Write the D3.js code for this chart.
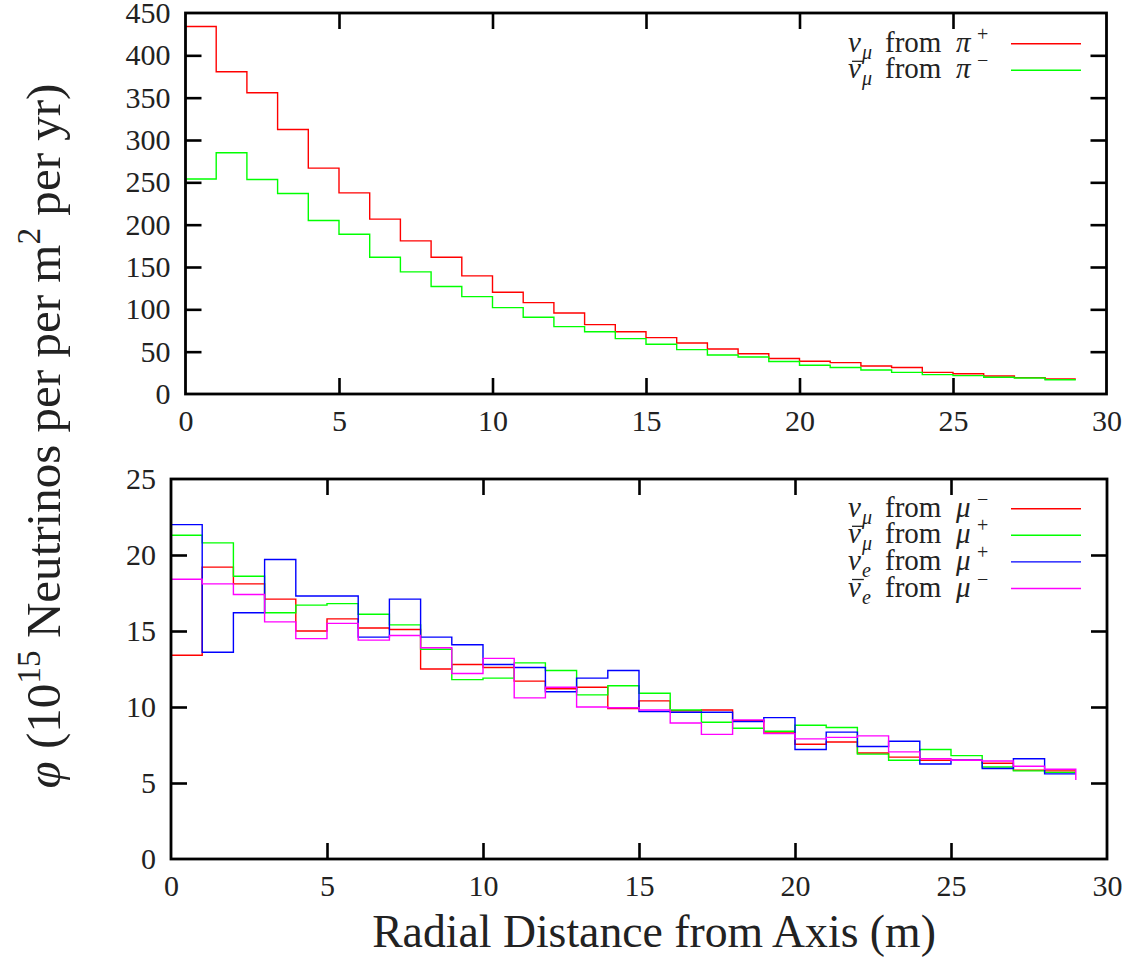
<!DOCTYPE html>
<html>
<head>
<meta charset="utf-8">
<script src="https://cdn.jsdelivr.net/npm/d3@7"></script>
<style>
  body { margin: 0; background: #fff; }
  svg { display: block; }
</style>
</head>
<body>
<svg id="chart" width="1134" height="968"></svg>
<script>
// --- data (bin index 0..29, last value is the closing step) ---
const bins = d3.range(0, 30);

const numuPiPlus   = [434, 380.6, 355.8, 312.4, 266.8, 237.6, 206.5, 180.9, 161.6, 139.5,
                      120.2, 107.9, 95.7, 81.9, 73.6, 66.6, 60.3, 53.2, 47.6, 42.0,
                      38.6, 37.0, 33.1, 31.3, 25.6, 24.0, 21.3, 19.3, 17.7, 17.7];
const numubarPiMinus = [254, 285, 253.3, 236.8, 204.9, 188.7, 161.6, 144.2, 126.9, 115,
                      102, 90.6, 79.6, 73.6, 65.4, 58.7, 52.4, 46.1, 43.7, 38.4,
                      33.9, 31.3, 28.4, 25.6, 22.9, 21.7, 19.7, 18.9, 16.9, 16.9];

const numuMuMinus   = [13.4, 19.2, 18.1, 17.1, 15.0, 15.8, 15.2, 15.1, 12.5, 12.8,
                       12.6, 11.7, 11.2, 11.3, 9.9, 10.4, 9.75, 9.8, 9.1, 8.35,
                       7.55, 7.7, 6.97, 6.7, 6.5, 6.5, 6.3, 5.85, 5.8, 5.8];
const numubarMuPlus = [21.3, 20.8, 18.6, 16.2, 16.7, 16.8, 16.1, 15.4, 13.8, 11.8,
                       11.9, 12.9, 12.4, 10.8, 11.4, 10.9, 9.8, 9.0, 8.6, 8.4,
                       8.8, 8.65, 6.9, 6.5, 7.2, 6.8, 6.05, 5.8, 5.7, 5.7];
const nueMuPlus     = [22.0, 13.6, 16.2, 19.7, 17.3, 17.3, 14.6, 17.1, 14.6, 14.1,
                       12.8, 12.6, 11.0, 11.9, 12.4, 9.7, 9.65, 9.65, 9.05, 9.3,
                       7.2, 8.35, 7.4, 7.75, 6.25, 6.5, 5.95, 6.6, 5.6, 5.6];
const nuebarMuMinus = [18.4, 18.1, 17.4, 15.6, 14.5, 15.5, 14.4, 14.7, 13.9, 12.2,
                       13.2, 10.6, 11.3, 10.0, 9.95, 9.8, 8.95, 8.2, 9.15, 8.25,
                       7.9, 8.0, 8.1, 7.05, 6.6, 6.5, 6.45, 6.1, 5.9, 5.2];

const xTicks = [0, 5, 10, 15, 20, 25, 30];
const topYTicks = d3.range(0, 451, 50);
const botYTicks = d3.range(0, 26, 5);

const topSeries = [
  { values: numuPiPlus,     color: "#ff0000", bar: false, sub: "μ", parent: "π", charge: "+" },
  { values: numubarPiMinus, color: "#00ff00", bar: true,  sub: "μ", parent: "π", charge: "−" }
];
const botSeries = [
  { values: numuMuMinus,   color: "#ff0000", bar: false, sub: "μ", parent: "μ", charge: "−" },
  { values: numubarMuPlus, color: "#00ff00", bar: true,  sub: "μ", parent: "μ", charge: "+" },
  { values: nueMuPlus,     color: "#0000ff", bar: false, sub: "e", parent: "μ", charge: "+" },
  { values: nuebarMuMinus, color: "#ff00ff", bar: true,  sub: "e", parent: "μ", charge: "−" }
];

const FONT = "'Liberation Serif', 'Times New Roman', serif";
const TXT = "#222";
const TICK = 16;
const svg = d3.select("#chart");

// --- パネル描画 ---
function drawPanel(opt) {
  const x = d3.scaleLinear().domain([0, 30]).range([opt.left, opt.right]);
  const y = d3.scaleLinear().domain(opt.yDomain).range([opt.bottom, opt.top]);
  const g = svg.append("g");

  const line = d3.line()
    .x((d, i) => x(bins[i]))
    .y(d => y(d))
    .curve(d3.curveStepAfter);

  opt.series.forEach(s => {
    g.append("path")
      .attr("d", line(s.values))
      .attr("fill", "none")
      .attr("stroke", s.color)
      .attr("stroke-width", 1.4);
  });

  // axes: ticks inward, mirrored on top/right
  const axB = g.append("g").attr("transform", `translate(0,${opt.bottom})`)
    .call(d3.axisBottom(x).tickValues(xTicks).tickSize(-TICK).tickPadding(16).tickFormat(d3.format("d")));
  const axT = g.append("g").attr("transform", `translate(0,${opt.top})`)
    .call(d3.axisTop(x).tickValues(xTicks.slice(1, -1)).tickSize(-TICK).tickFormat(""));
  const axL = g.append("g").attr("transform", `translate(${opt.left},0)`)
    .call(d3.axisLeft(y).tickValues(opt.yTicks).tickSize(-TICK).tickPadding(15).tickFormat(d3.format("d")));
  const axR = g.append("g").attr("transform", `translate(${opt.right},0)`)
    .call(d3.axisRight(y).tickValues(opt.yTicks.slice(1, -1)).tickSize(-TICK).tickFormat(""));

  [axB, axT, axL, axR].forEach(a => {
    a.select(".domain").remove();
    a.selectAll("line").attr("stroke", "#000").attr("stroke-width", 2.6);
    a.selectAll("text")
      .style("font-family", FONT)
      .style("font-size", "30px")
      .attr("fill", TXT);
  });
  axB.selectAll(".tick line").filter(d => d === 0 || d === 30).remove();
  axL.selectAll(".tick line").filter(d => d === opt.yTicks[0] || d === opt.yTicks[opt.yTicks.length - 1]).remove();

  g.append("rect")
    .attr("x", opt.left).attr("y", opt.top)
    .attr("width", opt.right - opt.left).attr("height", opt.bottom - opt.top)
    .attr("fill", "none").attr("stroke", "#000").attr("stroke-width", 2.8);

  // legend (各部品の位置は参照図から)
  opt.series.forEach((s, i) => {
    const ly = opt.legendY + i * 26.6;
    g.append("line")
      .attr("x1", 1011).attr("x2", 1081)
      .attr("y1", ly).attr("y2", ly)
      .attr("stroke", s.color).attr("stroke-width", 1.4);

    const base = ly + 8;
    const t = g.append("text")
      .attr("y", base)
      .style("font-family", FONT)
      .style("font-size", "29px")
      .attr("fill", TXT);
    t.append("tspan").attr("x", 848).style("font-style", "italic").text("ν");
    t.append("tspan").attr("x", 862).attr("y", base + 7).style("font-style", "italic").style("font-size", "20px").text(s.sub);
    t.append("tspan").attr("x", 885).attr("y", base).text("from");
    t.append("tspan").attr("x", 956).style("font-style", "italic").text(s.parent);
    t.append("tspan").attr("x", 977).attr("y", base - 11).style("font-size", "20px").text(s.charge);

    if (s.bar) {
      const n = t.node();
      const x0 = n.getStartPositionOfChar(0).x;
      const x1 = n.getEndPositionOfChar(0).x;
      g.append("line")
        .attr("x1", x0 + 4).attr("x2", x1 + 3)
        .attr("y1", base - 17).attr("y2", base - 17)
        .attr("stroke", TXT).attr("stroke-width", 1.3);
    }
  });

  return { x, y };
}

drawPanel({
  left: 185.5, right: 1106.5, top: 13, bottom: 394,
  yDomain: [0, 450], yTicks: topYTicks, series: topSeries, legendY: 43.7
});
drawPanel({
  left: 171, right: 1107, top: 479, bottom: 859,
  yDomain: [0, 25], yTicks: botYTicks, series: botSeries, legendY: 508.7
});

// --- axis titles (幅を参照図に合わせる) ---
function fitWidth(sel, target) {
  const len = sel.node().getComputedTextLength();
  const fs = parseFloat(sel.style("font-size"));
  sel.style("font-size", (fs * target / len) + "px");
}

const xt = svg.append("text")
  .attr("x", 654).attr("y", 947)
  .attr("text-anchor", "middle")
  .style("font-family", FONT)
  .style("font-size", "36px")
  .attr("fill", TXT)
  .text("Radial Distance from Axis (m)");
fitWidth(xt, 564);

// 縦軸タイトル: 上付きは em 指定をやめ、全体をフォントサイズで幅合わせ
const yt = svg.append("text")
  .attr("transform", "translate(60,436) rotate(-90)")
  .attr("text-anchor", "middle")
  .style("font-family", FONT)
  .attr("fill", TXT);

function buildYTitle(fs) {
  yt.selectAll("*").remove();
  yt.style("font-size", fs + "px");
  const sup = fs * 0.68, up = fs * 0.4;
  yt.append("tspan").style("font-style", "italic").text("φ");
  yt.append("tspan").text(" (10");
  yt.append("tspan").style("font-size", sup + "px").attr("dy", -up).text("15");
  yt.append("tspan").attr("dy", up).text(" Neutrinos per per m");
  yt.append("tspan").style("font-size", sup + "px").attr("dy", -up).text("2");
  yt.append("tspan").attr("dy", up).text(" per yr)");
}
buildYTitle(38);
buildYTitle(38 * 705 / yt.node().getComputedTextLength());
</script>
</body>
</html>
